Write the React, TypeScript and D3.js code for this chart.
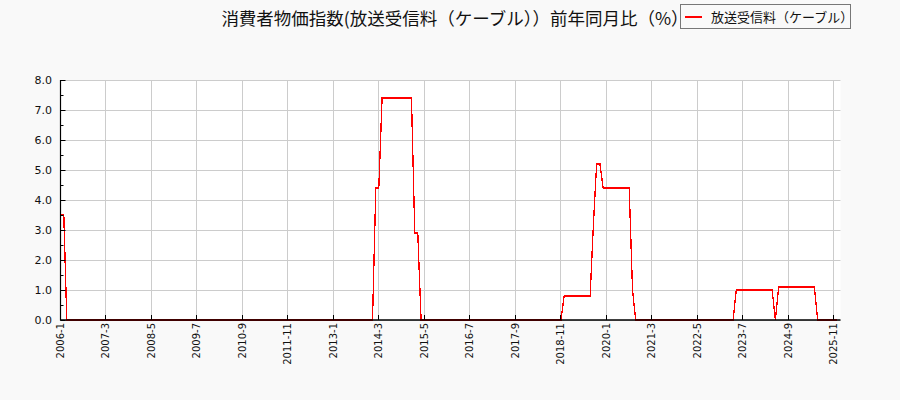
import { useEffect } from "react";
import { scaleTime, scaleLinear, line, range } from "d3";

const title = "消費者物価指数(放送受信料（ケーブル））前年同月比（%）";
const seriesName = "放送受信料（ケーブル）";

// monthly year-on-year change, Jan..Dec, one row per year from 2006
const startYear = 2006;
const y2006 = [3.5, 3.5, 0, 0, 0, 0, 0, 0, 0, 0, 0, 0];
const y2007 = [0, 0, 0, 0, 0, 0, 0, 0, 0, 0, 0, 0];
const y2008 = [0, 0, 0, 0, 0, 0, 0, 0, 0, 0, 0, 0];
const y2009 = [0, 0, 0, 0, 0, 0, 0, 0, 0, 0, 0, 0];
const y2010 = [0, 0, 0, 0, 0, 0, 0, 0, 0, 0, 0, 0];
const y2011 = [0, 0, 0, 0, 0, 0, 0, 0, 0, 0, 0, 0];
const y2012 = [0, 0, 0, 0, 0, 0, 0, 0, 0, 0, 0, 0];
const y2013 = [0, 0, 0, 0, 0, 0, 0, 0, 0, 0, 0, 0];
const y2014 = [0, 4.4, 4.4, 7.4, 7.4, 7.4, 7.4, 7.4, 7.4, 7.4, 7.4, 7.4];
const y2015 = [7.4, 2.9, 2.9, 0, 0, 0, 0, 0, 0, 0, 0, 0];
const y2016 = [0, 0, 0, 0, 0, 0, 0, 0, 0, 0, 0, 0];
const y2017 = [0, 0, 0, 0, 0, 0, 0, 0, 0, 0, 0, 0];
const y2018 = [0, 0, 0, 0, 0, 0, 0, 0, 0, 0, 0, 0.8];
const y2019 = [0.8, 0.8, 0.8, 0.8, 0.8, 0.8, 0.8, 0.8, 3.2, 5.2, 5.2, 4.4];
const y2020 = [4.4, 4.4, 4.4, 4.4, 4.4, 4.4, 4.4, 4.4, 1.0, 0, 0, 0];
const y2021 = [0, 0, 0, 0, 0, 0, 0, 0, 0, 0, 0, 0];
const y2022 = [0, 0, 0, 0, 0, 0, 0, 0, 0, 0, 0, 0];
const y2023 = [0, 0, 0, 0, 1.0, 1.0, 1.0, 1.0, 1.0, 1.0, 1.0, 1.0];
const y2024 = [1.0, 1.0, 1.0, 1.0, 0, 1.1, 1.1, 1.1, 1.1, 1.1, 1.1, 1.1];
const y2025 = [1.1, 1.1, 1.1, 1.1, 1.1, 0, 0, 0, 0, 0, 0, 0];

const yearRows = [
  y2006, y2007, y2008, y2009, y2010, y2011, y2012, y2013, y2014, y2015,
  y2016, y2017, y2018, y2019, y2020, y2021, y2022, y2023, y2024, y2025,
];

const xTickLabels = [
  "2006-1", "2007-3", "2008-5", "2009-7", "2010-9", "2011-11",
  "2013-1", "2014-3", "2015-5", "2016-7", "2017-9", "2018-11",
  "2020-1", "2021-3", "2022-5", "2023-7", "2024-9", "2025-11",
];
const yTicks = [0, 1, 2, 3, 4, 5, 6, 7, 8];

const width = 900;
const height = 400;
const left = 60.5;
const right = 840.5;
const top = 80;
const bottom = 320;

const parseLabel = (s: string) => {
  const [yy, mm] = s.split("-").map(Number);
  return new Date(yy, mm - 1, 1);
};

const points = yearRows.flatMap((row, i) =>
  row.map((v, m) => ({ date: new Date(startYear + i, m, 1), value: v }))
);

const App = () => {
  useEffect(() => {
    document.body.style.margin = "0";
  }, []);

  const x = scaleTime()
    .domain([new Date(2006, 0, 1), new Date(2026, 0, 1)])
    .range([left, right]);
  const y = scaleLinear().domain([0, 8]).range([bottom, top]);

  const path = line<{ date: Date; value: number }>()
    .x((d) => x(d.date))
    .y((d) => y(d.value))(points)!;

  const snap = (v: number) => Math.round(v - 0.5) + 0.5;
  const minorY = range(0.5, 8, 1);

  return (
    <svg width={width} height={height} style={{ display: "block" }}>
      <rect width={width} height={height} fill="#f9f9f9" />
      <rect x={left} y={top} width={right - left} height={bottom - top} fill="#ffffff" />

      {/* grid */}
      {yTicks.map((t) => (
        <line key={"gy" + t} x1={left} x2={right} y1={snap(y(t))} y2={snap(y(t))}
          stroke="#cccccc" strokeWidth={1} />
      ))}
      {xTickLabels.map((s) => (
        <line key={"gx" + s} x1={snap(x(parseLabel(s)))} x2={snap(x(parseLabel(s)))}
          y1={top} y2={bottom} stroke="#cccccc" strokeWidth={1} />
      ))}

      <path d={path} fill="none" stroke="#ff0000" strokeWidth={1.3} shapeRendering="crispEdges" />

      {/* axes */}
      <line x1={left} x2={left} y1={top} y2={bottom + 0.5} stroke="#000" strokeWidth={1.2} />
      <line x1={left} x2={right} y1={bottom} y2={bottom} stroke="#000" strokeWidth={1.6} />

      {yTicks.map((t) => (
        <g key={"ty" + t}>
          <line x1={left} x2={left + 5} y1={snap(y(t))} y2={snap(y(t))} stroke="#000" />
          <text x={52} y={y(t) + 4} textAnchor="end" fontSize={11}
            fontFamily="DejaVu Sans" fill="#111">{t.toFixed(1)}</text>
        </g>
      ))}
      {minorY.map((t) => (
        <line key={"my" + t} x1={left} x2={left + 3} y1={snap(y(t))} y2={snap(y(t))} stroke="#000" />
      ))}
      {xTickLabels.map((s) => {
        const px = x(parseLabel(s));
        return (
          <g key={"tx" + s}>
            <line x1={snap(px)} x2={snap(px)} y1={bottom} y2={bottom - 5} stroke="#000" />
            <text transform={`translate(${px + 3.5},${bottom + 3}) rotate(-90)`}
              textAnchor="end" fontSize={10} fontFamily="DejaVu Sans" fill="#111">{s}</text>
          </g>
        );
      })}

      <text x={455} y={25} textAnchor="middle" fontSize={17.5}
        fontFamily="Noto Sans CJK JP" fill="#111">{title}</text>

      <rect x={680.5} y={4.5} width={170} height={24} fill="#f9f9f9" stroke="#777" />
      <line x1={685} x2={702} y1={17} y2={17} stroke="#ff0000" strokeWidth={2} />
      <text x={711} y={21.5} fontSize={13} fontFamily="Noto Sans CJK JP" fill="#111">
        {seriesName}
      </text>
    </svg>
  );
};

export default App;
